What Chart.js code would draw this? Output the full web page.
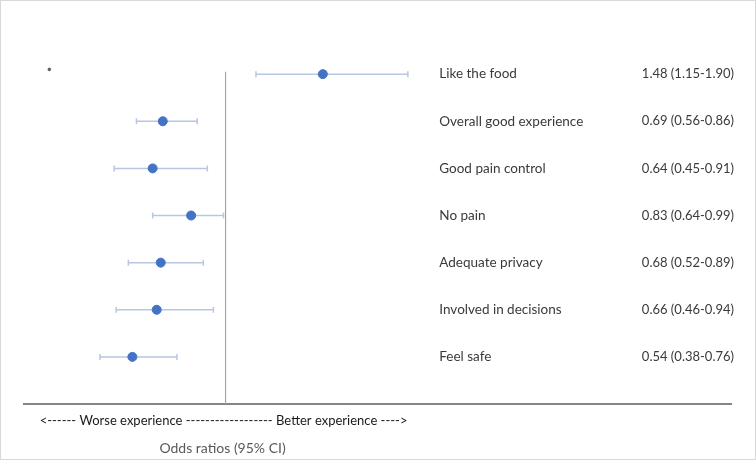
<!DOCTYPE html>
<html>
<head>
<meta charset="utf-8">
<script src="https://cdn.jsdelivr.net/npm/chart.js@4/dist/chart.umd.min.js"></script>
<style>
html,body{margin:0;padding:0;background:#fff;}
#c{display:block;}
</style>
</head>
<body>
<canvas id="c" width="756" height="460"></canvas>
<script>
// ---- data ----
const categories = ["Like the food","Overall good experience","Good pain control","No pain","Adequate privacy","Involved in decisions","Feel safe"];
const oddsRatios = [1.48, 0.69, 0.64, 0.83, 0.68, 0.66, 0.54];
const lowerCI   = [1.15, 0.56, 0.45, 0.64, 0.52, 0.46, 0.38];
const upperCI   = [1.90, 0.86, 0.91, 0.99, 0.89, 0.94, 0.76];
const rowPositions = [7, 6, 5, 4, 3, 2, 1];
const referenceOR = 1;
const strayMarker = [{x: 0.13, y: 7.1}];
const labelColumnX = 2.055;   // x-scale value where category names start
const valueColumnX = 3.055;   // x-scale value where OR text starts
const axisLabel = "<------ Worse experience ------------------ Better experience ---->";
const axisTitle = "Odds ratios (95% CI)";

const fmt = v => v.toFixed(2);
const orTexts = oddsRatios.map((v,i) => fmt(v) + " (" + fmt(lowerCI[i]) + "-" + fmt(upperCI[i]) + ")");
const points = oddsRatios.map((v,i) => ({x: v, y: rowPositions[i]}));

const FONT = "Lato, 'Open Sans', sans-serif";

const forestPlugin = {
  id: 'forest',
  beforeDatasetsDraw(chart) {
    const {ctx, scales:{x, y}, chartArea} = chart;
    ctx.save();
    // x axis line
    ctx.strokeStyle = '#858585';
    ctx.lineWidth = 2;
    ctx.beginPath();
    ctx.moveTo(chartArea.left, y.getPixelForValue(0));
    ctx.lineTo(chartArea.right, y.getPixelForValue(0));
    ctx.stroke();
    // error bars
    ctx.strokeStyle = '#b7c7e2';
    ctx.lineWidth = 1.5;
    lowerCI.forEach((lo, i) => {
      const py = y.getPixelForValue(rowPositions[i]);
      const x1 = x.getPixelForValue(lo), x2 = x.getPixelForValue(upperCI[i]);
      ctx.beginPath();
      ctx.moveTo(x1, py); ctx.lineTo(x2, py);
      ctx.moveTo(x1, py - 3); ctx.lineTo(x1, py + 3);
      ctx.moveTo(x2, py - 3); ctx.lineTo(x2, py + 3);
      ctx.stroke();
    });
    ctx.restore();
  },
  afterDatasetsDraw(chart) {
    const {ctx, scales:{x, y}} = chart;
    ctx.save();
    ctx.textBaseline = 'middle';
    ctx.textAlign = 'left';
    ctx.fillStyle = '#3a3a3a';
    categories.forEach((c, i) => {
      const py = y.getPixelForValue(rowPositions[i]);
      ctx.font = "13.5px " + FONT;
      ctx.fillText(c, x.getPixelForValue(labelColumnX), py);
      ctx.font = "13px " + FONT;
      ctx.fillText(orTexts[i], x.getPixelForValue(valueColumnX), py);
    });
    ctx.textAlign = 'center';
    ctx.fillStyle = '#1a1a1a';
    ctx.font = "13px " + FONT;
    ctx.fillText(axisLabel, x.getPixelForValue(0.99), y.getPixelForValue(0) + 17);
    ctx.fillStyle = '#595959';
    ctx.font = "14px " + FONT;
    ctx.fillText(axisTitle, x.getPixelForValue(0.985), y.getPixelForValue(0) + 44);
    // outer frame
    ctx.strokeStyle = '#d9d9d9';
    ctx.lineWidth = 1;
    ctx.strokeRect(0.5, 0.5, chart.width - 1, chart.height - 1);
    ctx.restore();
  }
};

new Chart(document.getElementById('c'), {
  type: 'scatter',
  data: {
    datasets: [
      {
        label: 'Reference',
        type: 'line',
        data: [{x: referenceOR, y: 0}, {x: referenceOR, y: 7.05}],
        borderColor: '#a6a6a6',
        borderWidth: 1.2,
        pointRadius: 0,
        fill: false
      },
      {
        label: 'Odds ratio',
        data: points,
        backgroundColor: '#4472c4',
        borderColor: '#4472c4',
        pointRadius: 4.5,
        pointHoverRadius: 4.5
      },
      {
        label: 'marker',
        data: strayMarker,
        backgroundColor: '#595959',
        borderColor: '#595959',
        pointRadius: 1.3
      }
    ]
  },
  options: {
    responsive: false,
    animation: false,
    events: [],
    layout: { padding: { left: 23, right: 24, top: 27, bottom: 56 } },
    plugins: { legend: { display: false }, tooltip: { enabled: false } },
    scales: {
      x: { type: 'linear', min: 0, max: 3.5, display: false },
      y: { type: 'linear', min: 0, max: 8, display: false }
    }
  },
  plugins: [forestPlugin]
});
</script>
</body>
</html>
